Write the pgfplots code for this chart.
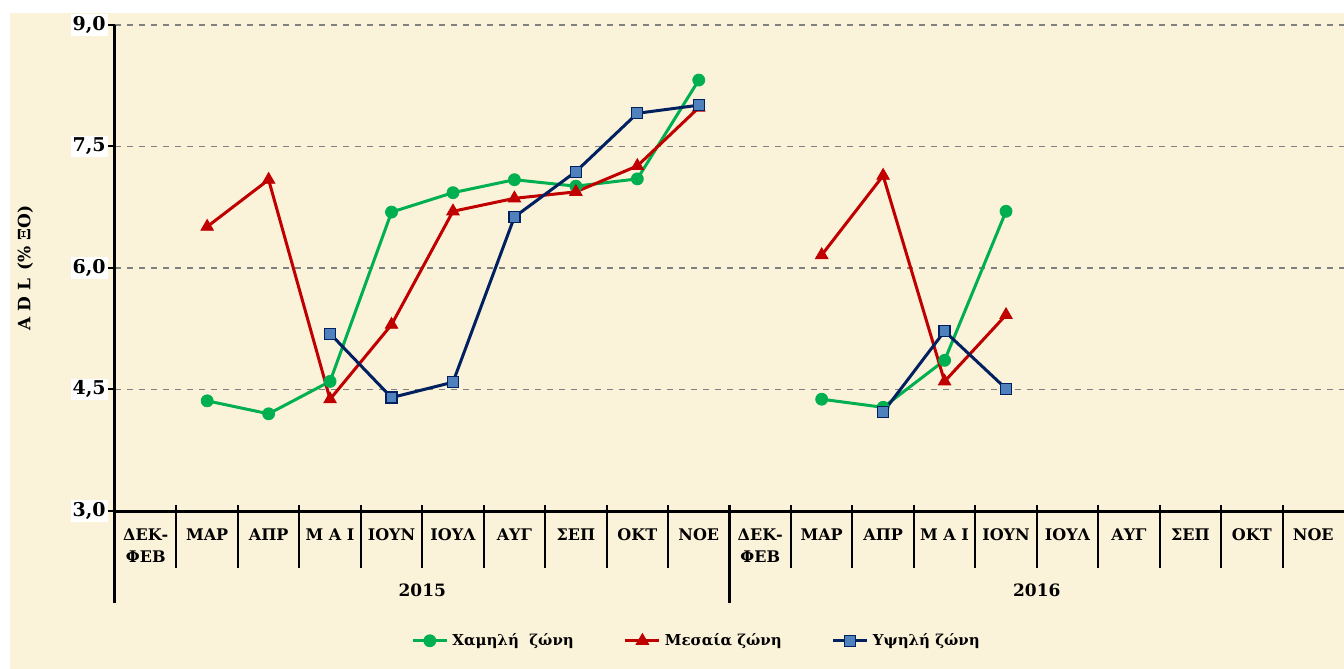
\documentclass[border=0pt]{standalone}
\usepackage{pgfplots}
\pgfplotsset{compat=1.18}
\usepackage{fontspec}
\setmainfont{DejaVu Serif}
\definecolor{bg}{RGB}{251,242,218}
\definecolor{cgreen}{RGB}{0,176,80}
\definecolor{cred}{RGB}{192,0,0}
\definecolor{cnavy}{RGB}{0,32,96}
\definecolor{cblue}{RGB}{79,129,189}
\begin{document}
\begin{tikzpicture}
\useasboundingbox (-57.5pt,-79pt) rectangle (614.5pt,255.5pt);
\fill[bg] (-52.5pt,-79pt) rectangle (614.5pt,249pt);
\begin{axis}[
  at={(0,0)}, anchor=south west,
  scale only axis, width=614.5pt, height=243pt,
  xmin=-0.5, xmax=19.5, ymin=3, ymax=9,
  clip=false,
  axis x line*=bottom, axis y line*=left,
  axis line style={line width=1.5pt, -},
  xtick={0,...,19},
  xticklabels={{ΔΕΚ-\\ΦΕΒ},ΜΑΡ,ΑΠΡ,Μ Α Ι,ΙΟΥΝ,ΙΟΥΛ,ΑΥΓ,ΣΕΠ,ΟΚΤ,ΝΟΕ,{ΔΕΚ-\\ΦΕΒ},ΜΑΡ,ΑΠΡ,Μ Α Ι,ΙΟΥΝ,ΙΟΥΛ,ΑΥΓ,ΣΕΠ,ΟΚΤ,ΝΟΕ},
  xticklabel style={align=center, font=\bfseries\fontsize{8}{11}\selectfont, yshift=-2pt},
  xtick style={draw=none},
  ytick={3,4.5,6,7.5,9},
  yticklabels={{3,0},{4,5},{6,0},{7,5},{9,0}},
  yticklabel style={fill=white, inner sep=1pt, font=\bfseries\fontsize{9.5}{11}\selectfont},
  ytick style={line width=1pt, black},
  tick align=outside, major tick length=3.5pt,
  ymajorgrids, grid style={dashed, gray, line width=0.6pt},
  ylabel={A D L\, (\% ΞΟ)},
  every axis y label/.style={at={(axis description cs:-0.073,0.5)}, rotate=90, anchor=center, font=\bfseries\fontsize{8.5}{10}\selectfont},
  unbounded coords=jump,
  legend style={at={(axis description cs:0.474,-0.267)}, anchor=center, draw=none, fill=none,
    font=\bfseries\fontsize{7.5}{9}\selectfont, legend columns=3,
    /tikz/every even column/.append style={column sep=23pt}},
]
\addplot[cgreen, line width=1.5pt, mark=*, mark size=3pt, mark options={line width=0.4pt}] coordinates {
(1,4.36) (2,4.20) (3,4.60) (4,6.69) (5,6.93) (6,7.09) (7,7.01) (8,7.10) (9,8.32) (10,nan)
(11,4.38) (12,4.28) (13,4.86) (14,6.70)};
\addlegendentry{Χαμηλή\ \ ζώνη}
\addplot[cred, line width=1.5pt, mark=triangle*, mark size=3.6pt, mark options={line width=0.4pt}] coordinates {
(1,6.51) (2,7.09) (3,4.38) (4,5.30) (5,6.70) (6,6.86) (7,6.94) (8,7.26) (9,7.98) (10,nan)
(11,6.16) (12,7.14) (13,4.60) (14,5.42)};
\addlegendentry{Μεσαία ζώνη}
\addplot[cnavy, line width=1.5pt, mark=square*, mark size=2.75pt, mark options={fill=cblue, draw=cnavy, line width=0.6pt}] coordinates {
(3,5.19) (4,4.40) (5,4.59) (6,6.63) (7,7.19) (8,7.91) (9,8.01) (10,nan)
(12,4.22) (13,5.22) (14,4.51)};
\addlegendentry{Υψηλή ζώνη}
\pgfplotsinvokeforeach{0.5,1.5,2.5,3.5,4.5,5.5,6.5,7.5,8.5,10.5,11.5,12.5,13.5,14.5,15.5,16.5,17.5,18.5}{
  \draw[line width=1pt] ([yshift=3pt]axis cs:#1,3) -- ([yshift=-28.5pt]axis cs:#1,3);
}
\draw[line width=1.5pt] (axis cs:-0.5,3) -- ([yshift=-46pt]axis cs:-0.5,3);
\draw[line width=1.2pt] ([yshift=3pt]axis cs:9.5,3) -- ([yshift=-46pt]axis cs:9.5,3);
\node[font=\bfseries\fontsize{8.5}{10}\selectfont] at (axis cs:4.5,3) [yshift=-39.5pt] {2015};
\node[font=\bfseries\fontsize{8.5}{10}\selectfont] at (axis cs:14.5,3) [yshift=-39.5pt] {2016};
\end{axis}
\end{tikzpicture}
\end{document}
